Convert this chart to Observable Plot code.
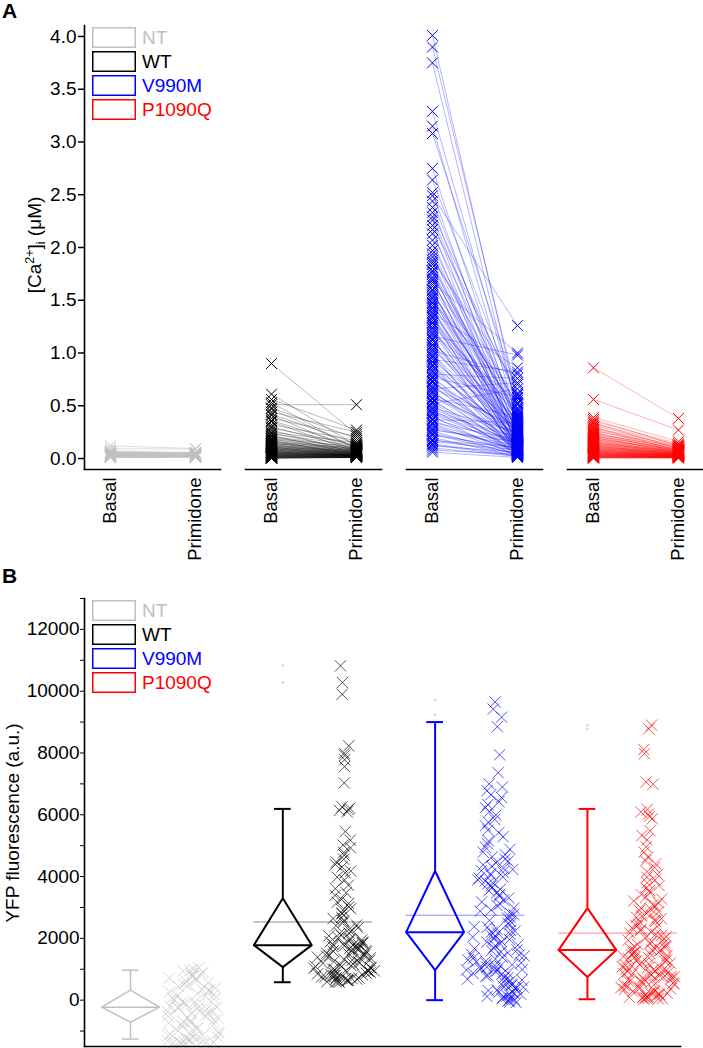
<!DOCTYPE html>
<html>
<head>
<meta charset="utf-8">
<script src="https://cdn.jsdelivr.net/npm/d3@7"></script>
<script src="https://cdn.jsdelivr.net/npm/@observablehq/plot@0.6"></script>
<style>
  html, body { margin: 0; padding: 0; background: #fff; }
  #wrap { position: relative; width: 703px; height: 1048px; overflow: hidden; background: #fff; }
  #panelA { position: absolute; left: 0; top: 0; }
  #panelB { position: absolute; left: 0; top: 560px; }
  #overlay { position: absolute; left: 0; top: 0; pointer-events: none; }
  text { font-family: "Liberation Sans", Arial, sans-serif; }
</style>
</head>
<body>
<div id="wrap">
  <div id="panelA"></div>
  <div id="panelB"></div>
  <svg id="overlay" width="703" height="1048"></svg>
</div>
<script>
// ---------------- shared categories ----------------
const groups = ["NT", "WT", "V990M", "P1090Q"];
const groupColors = ["#c0c0c0", "#000000", "#0000ff", "#ff0000"];
const conditions = ["Basal", "Primidone"];

// ---------------- Panel A: [Ca2+]i (µM), paired cells ----------------
const yTicksA = [0, 0.5, 1, 1.5, 2, 2.5, 3, 3.5, 4];

const ntBasal = [0.120, 0.092, 0.071, 0.066, 0.062, 0.058, 0.055, 0.053, 0.050, 0.048, 0.047, 0.045, 0.043, 0.042, 0.040, 0.039, 0.037, 0.036, 0.035, 0.033, 0.032, 0.031, 0.030, 0.029, 0.028, 0.027, 0.026, 0.025, 0.024, 0.023, 0.022, 0.021, 0.020, 0.019, 0.018, 0.016, 0.015, 0.013, 0.011, 0.008];
const ntPrimidone = [0.095, 0.090, 0.052, 0.060, 0.048, 0.055, 0.041, 0.050, 0.044, 0.038, 0.046, 0.035, 0.040, 0.033, 0.037, 0.030, 0.036, 0.028, 0.034, 0.031, 0.026, 0.029, 0.032, 0.025, 0.027, 0.024, 0.030, 0.022, 0.026, 0.021, 0.023, 0.020, 0.024, 0.018, 0.021, 0.017, 0.019, 0.015, 0.014, 0.012];

const wtBasal = [0.90, 0.61, 0.56, 0.53, 0.51, 0.48, 0.47, 0.44, 0.42, 0.41, 0.38, 0.36, 0.35, 0.32, 0.30, 0.29, 0.27, 0.25, 0.24, 0.235, 0.22, 0.21, 0.205, 0.19, 0.185, 0.18, 0.172, 0.165, 0.16, 0.153, 0.15, 0.144, 0.14, 0.133, 0.13, 0.126, 0.12, 0.117, 0.112, 0.11, 0.106, 0.101, 0.098, 0.095, 0.091, 0.089, 0.085, 0.083, 0.079, 0.077, 0.073, 0.071, 0.068, 0.064, 0.063, 0.06, 0.057, 0.055, 0.052, 0.05, 0.049, 0.046, 0.044, 0.041, 0.04, 0.037, 0.036, 0.033, 0.032, 0.03, 0.027, 0.026, 0.024, 0.021, 0.02, 0.018, 0.016, 0.013, 0.012, 0.01, 0.008, 0.006, 0.005, 0.004, 0.003];
const wtPrimidone = [0.23, 0.12, 0.27, 0.08, 0.51, 0.19, 0.10, 0.25, 0.14, 0.07, 0.21, 0.11, 0.06, 0.17, 0.09, 0.13, 0.05, 0.15, 0.08, 0.12, 0.04, 0.10, 0.07, 0.11, 0.06, 0.09, 0.03, 0.08, 0.05, 0.10, 0.04, 0.07, 0.09, 0.03, 0.06, 0.08, 0.05, 0.07, 0.02, 0.06, 0.04, 0.08, 0.05, 0.03, 0.06, 0.04, 0.07, 0.02, 0.05, 0.03, 0.06, 0.04, 0.02, 0.05, 0.03, 0.04, 0.02, 0.05, 0.03, 0.04, 0.02, 0.03, 0.04, 0.02, 0.03, 0.01, 0.03, 0.02, 0.04, 0.02, 0.01, 0.03, 0.02, 0.01, 0.02, 0.03, 0.01, 0.02, 0.01, 0.02, 0.01, 0.01, 0.02, 0.01, 0.01];

const v990mBasal = [4.01, 3.90, 3.75, 3.29, 3.15, 3.08, 2.75, 2.64, 2.52, 2.49, 2.44, 2.38, 2.33, 2.29, 2.26, 2.21, 2.17, 2.13, 2.07, 2.02, 1.97, 1.94, 1.91, 1.88, 1.86, 1.84, 1.81, 1.78, 1.77, 1.75, 1.72, 1.70, 1.69, 1.67, 1.65, 1.63, 1.60, 1.59, 1.57, 1.55, 1.53, 1.52, 1.50, 1.48, 1.47, 1.45, 1.43, 1.42, 1.40, 1.38, 1.37, 1.35, 1.34, 1.33, 1.31, 1.29, 1.28, 1.26, 1.24, 1.23, 1.21, 1.19, 1.18, 1.16, 1.14, 1.13, 1.12, 1.10, 1.08, 1.07, 1.05, 1.03, 1.02, 1.00, 0.98, 0.97, 0.96, 0.94, 0.92, 0.91, 0.89, 0.88, 0.87, 0.85, 0.83, 0.82, 0.80, 0.78, 0.77, 0.76, 0.74, 0.73, 0.72, 0.70, 0.68, 0.67, 0.66, 0.64, 0.63, 0.62, 0.60, 0.58, 0.57, 0.56, 0.54, 0.53, 0.52, 0.50, 0.48, 0.47, 0.46, 0.44, 0.43, 0.42, 0.40, 0.38, 0.37, 0.36, 0.34, 0.33, 0.32, 0.30, 0.28, 0.27, 0.26, 0.24, 0.23, 0.22, 0.20, 0.18, 0.17, 0.16, 0.14, 0.13, 0.12, 0.10, 0.08, 0.06];
const v990mPrimidone = [0.52, 0.58, 0.44, 0.48, 0.36, 0.61, 0.31, 0.55, 0.27, 1.26, 0.40, 0.22, 0.57, 0.34, 0.16, 0.62, 0.09, 0.46, 0.12, 0.35, 0.29, 0.13, 0.51, 0.70, 0.24, 0.19, 0.38, 0.08, 0.41, 0.26, 0.43, 0.06, 0.14, 1.00, 0.53, 0.33, 0.06, 0.18, 0.21, 0.47, 0.28, 0.11, 0.30, 0.60, 0.17, 0.39, 0.10, 0.05, 0.24, 0.86, 0.31, 0.13, 0.02, 0.35, 0.09, 0.45, 0.20, 0.42, 0.14, 0.04, 0.28, 0.15, 0.55, 0.98, 0.07, 0.08, 0.23, 0.37, 0.26, 0.12, 0.18, 0.32, 0.80, 0.03, 0.25, 0.11, 0.10, 0.82, 0.33, 0.16, 0.06, 0.04, 0.29, 0.13, 0.21, 0.22, 0.76, 0.05, 0.58, 0.19, 0.11, 0.09, 0.27, 0.08, 0.14, 0.30, 0.72, 0.04, 0.12, 0.17, 0.09, 0.23, 0.40, 0.03, 0.12, 0.05, 0.66, 0.07, 0.25, 0.15, 0.05, 0.20, 0.14, 0.10, 0.02, 0.13, 0.34, 0.06, 0.18, 0.08, 0.04, 0.09, 0.12, 0.16, 0.03, 0.07, 0.04, 0.10, 0.02, 0.05, 0.11, 0.08, 0.03, 0.02, 0.06, 0.02, 0.04, 0.01];

const p1090qBasal = [0.86, 0.56, 0.39, 0.37, 0.355, 0.34, 0.33, 0.315, 0.30, 0.29, 0.28, 0.27, 0.262, 0.25, 0.243, 0.235, 0.23, 0.22, 0.214, 0.21, 0.20, 0.196, 0.19, 0.183, 0.18, 0.172, 0.168, 0.16, 0.156, 0.15, 0.147, 0.141, 0.138, 0.132, 0.13, 0.124, 0.12, 0.117, 0.112, 0.109, 0.105, 0.101, 0.098, 0.094, 0.091, 0.088, 0.085, 0.081, 0.079, 0.075, 0.072, 0.07, 0.066, 0.064, 0.061, 0.058, 0.056, 0.053, 0.051, 0.048, 0.046, 0.043, 0.041, 0.039, 0.036, 0.034, 0.032, 0.03, 0.028, 0.026, 0.024, 0.022, 0.02, 0.018, 0.016, 0.014, 0.012, 0.01, 0.008, 0.006, 0.004];
const p1090qPrimidone = [0.38, 0.27, 0.16, 0.12, 0.14, 0.09, 0.13, 0.11, 0.07, 0.12, 0.10, 0.08, 0.11, 0.06, 0.09, 0.10, 0.07, 0.08, 0.05, 0.09, 0.06, 0.08, 0.07, 0.05, 0.08, 0.06, 0.04, 0.07, 0.05, 0.06, 0.04, 0.07, 0.05, 0.03, 0.06, 0.04, 0.05, 0.03, 0.06, 0.04, 0.05, 0.03, 0.04, 0.05, 0.02, 0.04, 0.03, 0.05, 0.02, 0.04, 0.03, 0.02, 0.04, 0.03, 0.02, 0.03, 0.04, 0.02, 0.03, 0.01, 0.03, 0.02, 0.03, 0.01, 0.02, 0.03, 0.01, 0.02, 0.02, 0.01, 0.02, 0.01, 0.02, 0.01, 0.01, 0.02, 0.01, 0.01, 0.01, 0.005, 0.005];

// ---------------- Panel B: YFP fluorescence (a.u.) ----------------
const yTicksB = [0, 2000, 4000, 6000, 8000, 10000, 12000];
const yMinorTicksB = [-1000, 1000, 3000, 5000, 7000, 9000, 11000, 13000];

// box statistics read from the diamonds (per group, in group order)
const whiskerLow  = [-1260, 580, 0, 30];
const quartile1   = [-713, 1070, 970, 750];
const medians     = [-227, 1780, 2200, 1620];
const quartile3   = [324, 3300, 4180, 2980];
const whiskerHigh = [970, 6190, 9000, 6190];
const means       = [null, 2530, 2750, 2170];
const extremeHigh = [[], [10830, 10280], [9720, 9240], [8900, 8780]];

const ntYfp = [1050, 1010, 960, 935, 905, 860, 845, 790, 770, 715, 690, 655, 600, 565, 520, 470, 440, 385, 350, 330, 295, 265, 215, 185, 140, 115, 65, 40, 5, -35, -65, -105, -140, -165, -195, -205, -225, -245, -255, -290, -315, -355, -375, -425, -445, -495, -520, -565, -595, -645, -675, -700, -725, -735, -775, -805, -835, -885, -915, -965, -995, -1035, -1065, -1095, -1135, -1155, -1195, -1205, -1235, -1245, -1275, -1285, -1315, -1325, -1345, -1350, -1365, -1370, -1385, -1390];
const wtYfp = [10820, 10280, 9900, 8230, 7990, 7920, 7780, 7560, 7030, 6260, 6210, 6170, 6140, 6090, 5460, 5180, 5020, 4930, 4780, 4690, 4560, 4470, 4390, 4310, 4180, 4120, 3980, 3890, 3720, 3610, 3480, 3390, 3260, 3170, 3130, 3020, 2960, 2910, 2820, 2790, 2680, 2640, 2570, 2520, 2430, 2410, 2340, 2280, 2250, 2170, 2160, 2100, 2080, 2020, 1990, 1950, 1940, 1890, 1880, 1860, 1830, 1810, 1800, 1790, 1780, 1760, 1730, 1720, 1680, 1670, 1650, 1640, 1600, 1590, 1560, 1550, 1520, 1500, 1490, 1450, 1440, 1430, 1390, 1370, 1360, 1320, 1300, 1290, 1250, 1240, 1200, 1190, 1170, 1140, 1120, 1090, 1080, 1060, 1040, 1030, 1000, 990, 960, 950, 930, 920, 900, 880, 870, 850, 840, 820, 800, 790, 770, 760, 750, 730, 720, 700, 690, 680, 660, 650, 640, 630, 610, 600, 590, 580];
const v990mYfp = [9650, 9420, 9160, 8850, 7940, 7360, 7000, 6900, 6780, 6650, 6560, 6420, 6330, 6230, 6100, 5990, 5850, 5760, 5640, 5500, 5420, 5290, 5150, 5060, 4950, 4880, 4790, 4710, 4640, 4560, 4500, 4440, 4380, 4330, 4270, 4230, 4190, 4140, 4090, 4050, 3990, 3950, 3890, 3860, 3800, 3770, 3700, 3650, 3590, 3540, 3470, 3420, 3360, 3310, 3240, 3180, 3110, 3060, 2980, 2920, 2880, 2800, 2770, 2690, 2660, 2580, 2550, 2480, 2450, 2380, 2360, 2300, 2260, 2230, 2200, 2170, 2140, 2100, 2060, 2040, 1980, 1960, 1900, 1880, 1820, 1780, 1760, 1700, 1670, 1630, 1600, 1560, 1530, 1490, 1460, 1430, 1390, 1360, 1330, 1300, 1270, 1240, 1210, 1180, 1150, 1120, 1100, 1070, 1050, 1030, 1010, 990, 975, 950, 930, 880, 870, 840, 790, 780, 730, 720, 680, 650, 610, 590, 550, 520, 490, 460, 420, 400, 370, 330, 310, 280, 250, 230, 190, 170, 140, 120, 90, 70, 40, 20, 0, -30, -60, -80];
const p1090qYfp = [8900, 8780, 8110, 7980, 7060, 6990, 6170, 6090, 6020, 5950, 5870, 5480, 5330, 5190, 4960, 4790, 4630, 4510, 4410, 4290, 4160, 4070, 3980, 3890, 3800, 3710, 3630, 3550, 3480, 3410, 3340, 3270, 3210, 3150, 3090, 3040, 2990, 2950, 2900, 2860, 2810, 2770, 2720, 2680, 2640, 2590, 2550, 2510, 2460, 2420, 2380, 2340, 2290, 2250, 2210, 2170, 2130, 2090, 2050, 2010, 1980, 1940, 1900, 1870, 1830, 1800, 1760, 1730, 1700, 1670, 1650, 1630, 1620, 1600, 1570, 1550, 1520, 1500, 1470, 1450, 1420, 1400, 1370, 1350, 1330, 1300, 1280, 1250, 1230, 1200, 1180, 1150, 1130, 1110, 1080, 1060, 1040, 1010, 990, 970, 950, 930, 910, 890, 870, 850, 830, 810, 790, 770, 755, 740, 720, 700, 680, 660, 640, 610, 590, 570, 550, 520, 500, 480, 450, 430, 410, 380, 360, 340, 310, 290, 270, 240, 220, 200, 180, 160, 140, 120, 100, 90, 80, 70, 60, 50, 40, 30];

// ================= build Panel A =================
const pairSets = [[ntBasal, ntPrimidone], [wtBasal, wtPrimidone], [v990mBasal, v990mPrimidone], [p1090qBasal, p1090qPrimidone]];
const pairData = [];
groups.forEach((g, gi) => {
  const [b, p] = pairSets[gi];
  b.forEach((v, i) => pairData.push({group: g, basal: v, primidone: p[i]}));
});
const pointData = pairData.flatMap(d => [
  {group: d.group, cond: "Basal", value: d.basal},
  {group: d.group, cond: "Primidone", value: d.primidone}
]);

const lineStyle = {
  NT: {strokeOpacity: 0.7, strokeWidth: 0.8},
  WT: {strokeOpacity: 0.55, strokeWidth: 0.5},
  V990M: {strokeOpacity: 0.5, strokeWidth: 0.6},
  P1090Q: {strokeOpacity: 0.5, strokeWidth: 0.6}
};

const FONT = "'Liberation Sans', Arial, sans-serif";

const plotA = Plot.plot({
  width: 703, height: 570,
  marginLeft: 84, marginRight: 0, marginTop: 25, marginBottom: 101,
  style: {fontFamily: FONT, fontSize: "19px", background: "none", color: "#000", overflow: "visible"},
  fx: {domain: groups, paddingInner: 0.155, paddingOuter: 0, round: false, axis: null},
  x: {type: "point", domain: conditions, padding: 0.3, axis: null},
  y: {domain: [-0.104, 4.104], axis: null},
  color: {domain: groups, range: groupColors},
  marks: [
    ...groups.map(g => Plot.link(pairData.filter(d => d.group === g), {
      fx: "group", x1: () => "Basal", x2: () => "Primidone", y1: "basal", y2: "primidone",
      stroke: "group", ...lineStyle[g]
    })),
    Plot.dot(pointData, {fx: "group", x: "cond", y: "value", symbol: "times", r: 5, stroke: "group", strokeWidth: 1}),
    Plot.frame({anchor: "bottom", stroke: "#000", strokeWidth: 1.6}),
    Plot.frame({anchor: "left", facet: "super", stroke: "#000", strokeWidth: 1.6}),
    Plot.axisY({ticks: yTicksA, tickFormat: d3.format(".1f"), tickSize: 6, tickPadding: 2, fontSize: 19, label: null, strokeWidth: 1.5}),
    Plot.axisX({tickRotate: -90, tickSize: 0, tickPadding: 8, fontSize: 18.5, label: null})
  ]
});
document.getElementById("panelA").appendChild(plotA);

// ================= build Panel B =================
const yfpSets = [ntYfp, wtYfp, v990mYfp, p1090qYfp];
const POINT_OFFSET = 0.4;   // scatter column sits right of each diamond (in group units)
const HALF = 0.19;          // diamond half width (group units)
const CAP = 0.055;

// deterministic hash in [0,1) used only to spread the markers sideways
function hash01(i, seed) {
  const s = Math.sin((i + 1) * 12.9898 + seed * 78.233) * 43758.5453;
  return s - Math.floor(s);
}
// sideways spread grows with the local density of values (narrow where values are sparse)
function jitterOffsets(values, halfMax, seed) {
  const h = 420;
  const dens = values.map(v => values.filter(w => Math.abs(w - v) <= h).length);
  const dmax = d3.max(dens);
  return values.map((v, i) => {
    const u = hash01(i, seed) * 2 - 1;
    const w = 0.08 + 0.92 * Math.pow(dens[i] / dmax, 0.8);
    return halfMax * w * u;
  });
}

const scatterB = [];
yfpSets.forEach((vals, gi) => {
  const off = jitterOffsets(vals, 0.205, gi + 1);
  vals.forEach((v, i) => scatterB.push({group: groups[gi], gi, value: v, jit: off[i]}));
});

const stats = groups.map((g, gi) => ({
  group: g, gi,
  lo: whiskerLow[gi], q1: quartile1[gi], med: medians[gi], q3: quartile3[gi], hi: whiskerHigh[gi], mean: means[gi]
}));
const diamond = stats.flatMap(s => [
  {group: s.group, x: s.gi, y: s.q3},
  {group: s.group, x: s.gi + HALF, y: s.med},
  {group: s.group, x: s.gi, y: s.q1},
  {group: s.group, x: s.gi - HALF, y: s.med},
  {group: s.group, x: s.gi, y: s.q3}
]);
const extremes = extremeHigh.flatMap((arr, gi) => arr.map(v => ({group: groups[gi], gi, value: v})));
const boxWidth = g => (g === "NT" ? 1.5 : 2);

const plotB = Plot.plot({
  width: 703, height: 488,
  marginLeft: 84, marginRight: 23, marginTop: 38, marginBottom: 2,
  style: {fontFamily: FONT, fontSize: "19px", background: "none", color: "#000", overflow: "visible"},
  x: {domain: [-0.302, 3.611], axis: null},
  y: {domain: [-1500, 13000], axis: null},
  color: {domain: groups, range: groupColors},
  marks: [
    Plot.ruleY(stats.filter(s => s.mean != null), {y: "mean", x1: s => s.gi - HALF, x2: s => s.gi + 0.59, stroke: "group", strokeOpacity: 0.45, strokeWidth: 1}),
    Plot.dot(scatterB, {x: d => d.gi + POINT_OFFSET + d.jit, y: "value", symbol: "times", r: 5.2, stroke: "group", strokeWidth: 0.9, strokeOpacity: 0.75}),
    Plot.ruleX(stats, {x: "gi", y1: "lo", y2: "q1", stroke: "group", strokeWidth: s => boxWidth(s.group)}),
    Plot.ruleX(stats, {x: "gi", y1: "q3", y2: "hi", stroke: "group", strokeWidth: s => boxWidth(s.group)}),
    Plot.ruleY(stats, {y: "lo", x1: s => s.gi - CAP, x2: s => s.gi + CAP, stroke: "group", strokeWidth: s => boxWidth(s.group)}),
    Plot.ruleY(stats, {y: "hi", x1: s => s.gi - CAP, x2: s => s.gi + CAP, stroke: "group", strokeWidth: s => boxWidth(s.group)}),
    Plot.line(diamond.filter(d => d.group === "NT"), {x: "x", y: "y", stroke: "group", strokeWidth: 1.5}),
    Plot.line(diamond.filter(d => d.group !== "NT"), {x: "x", y: "y", z: "group", stroke: "group", strokeWidth: 2}),
    Plot.ruleY(stats, {y: "med", x1: s => s.gi - HALF, x2: s => s.gi + HALF, stroke: "group", strokeWidth: s => boxWidth(s.group)}),
    Plot.dot(extremes, {x: "gi", y: "value", r: 1.2, fill: "#d0d0d0"}),
    Plot.frame({anchor: "left", stroke: "#000", strokeWidth: 1.6}),
    Plot.frame({anchor: "bottom", stroke: "#000", strokeWidth: 1.6}),
    Plot.axisY({ticks: yMinorTicksB, tickSize: 4, tickFormat: () => "", label: null}),
    Plot.axisY({ticks: yTicksB, tickSize: 4, tickPadding: 1, tickFormat: d => String(d), fontSize: 19, label: null})
  ]
});
document.getElementById("panelB").appendChild(plotB);

// ================= overlay: panel letters, legends, axis titles =================
const ov = d3.select("#overlay");
ov.append("text").attr("x", 2).attr("y", 18).attr("font-size", 21).attr("font-weight", "bold").text("A");
ov.append("text").attr("x", 2).attr("y", 583).attr("font-size", 21).attr("font-weight", "bold").text("B");

function legend(top) {
  groups.forEach((g, k) => {
    ov.append("rect").attr("x", 92.75).attr("y", top + 24 * k + 0.75).attr("width", 42.5).attr("height", 19.5)
      .attr("fill", "none").attr("stroke", groupColors[k]).attr("stroke-width", 1.5);
    ov.append("text").attr("x", 142).attr("y", top + 24 * k + 17).attr("font-size", 19).attr("fill", groupColors[k]).text(g);
  });
}
legend(27);
legend(600);

const ta = ov.append("text").attr("transform", "translate(41,245) rotate(-90)").attr("text-anchor", "middle").attr("font-size", 19);
ta.append("tspan").text("[Ca");
ta.append("tspan").attr("dy", -7).attr("font-size", 12.5).text("2+");
ta.append("tspan").attr("dy", 7).text("]");
ta.append("tspan").attr("dy", 4).attr("font-size", 12.5).text("i");
ta.append("tspan").attr("dy", -4).text(" (\u03BCM)");

ov.append("text").attr("transform", "translate(18.5,823) rotate(-90)").attr("text-anchor", "middle").attr("font-size", 19)
  .text("YFP fluorescence (a.u.)");
</script>
</body>
</html>
